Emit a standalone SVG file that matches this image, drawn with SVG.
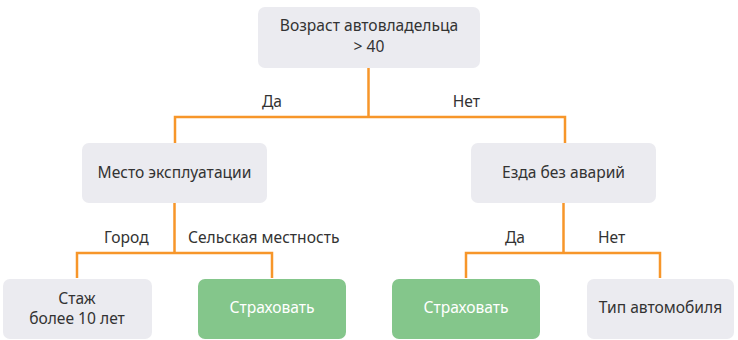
<svg xmlns="http://www.w3.org/2000/svg" width="738" height="340" viewBox="0 0 738 340">
<style>
.n{fill:#ebebf0}
.g{fill:#84c68b}
.t{font-family:"Noto Sans","Open Sans","Liberation Sans",sans-serif;font-size:15.6px;fill:#333;text-anchor:middle}
.w{fill:#fff}
.l{font-family:"Noto Sans","Open Sans","Liberation Sans",sans-serif;font-size:15.6px;fill:#333}
.c{fill:none;stroke:#f7962a;stroke-width:2.5}
</style>
<rect width="738" height="340" fill="#fff"/>
<g id="connectors">
<path class="c" d="M368.5 68V117M175 143V117H565V143"/>
<path class="c" d="M174.5 203V253M77 278V253H272V278"/>
<path class="c" d="M563.5 203V253M466 278V253H660V278"/>
<text class="l" x="262" y="107">Да</text>
<text class="l" x="480" y="107" text-anchor="end">Нет</text>
<text class="l" x="104" y="243">Город</text>
<text class="l" x="188" y="243">Сельская местность</text>
<text class="l" x="505" y="243">Да</text>
<text class="l" x="598" y="243">Нет</text>
</g>
<g id="root">
<rect class="n" x="258" y="7" width="222" height="61" rx="7"/>
<text class="t" x="369" y="31">Возраст автовладельца</text>
<text class="t" x="369" y="52">&gt; 40</text>
</g>
<g id="place">
<rect class="n" x="82" y="143" width="185" height="60" rx="7"/>
<text class="t" x="174.5" y="178">Место эксплуатации</text>
</g>
<g id="noacc">
<rect class="n" x="471" y="143" width="185" height="60" rx="7"/>
<text class="t" x="563.5" y="178">Езда без аварий</text>
</g>
<g id="exp">
<rect class="n" x="3" y="279" width="149" height="60" rx="7"/>
<text class="t" x="77" y="304">Стаж</text>
<text class="t" x="77" y="324">более 10 лет</text>
</g>
<g id="ins1">
<rect class="g" x="198" y="279" width="148" height="60" rx="7"/>
<text class="t w" x="272" y="313">Страховать</text>
</g>
<g id="ins2">
<rect class="g" x="392" y="279" width="148" height="60" rx="7"/>
<text class="t w" x="466" y="313">Страховать</text>
</g>
<g id="cartype">
<rect class="n" x="587" y="279" width="147" height="60" rx="7"/>
<text class="t" x="660.5" y="313">Тип автомобиля</text>
</g>
</svg>
